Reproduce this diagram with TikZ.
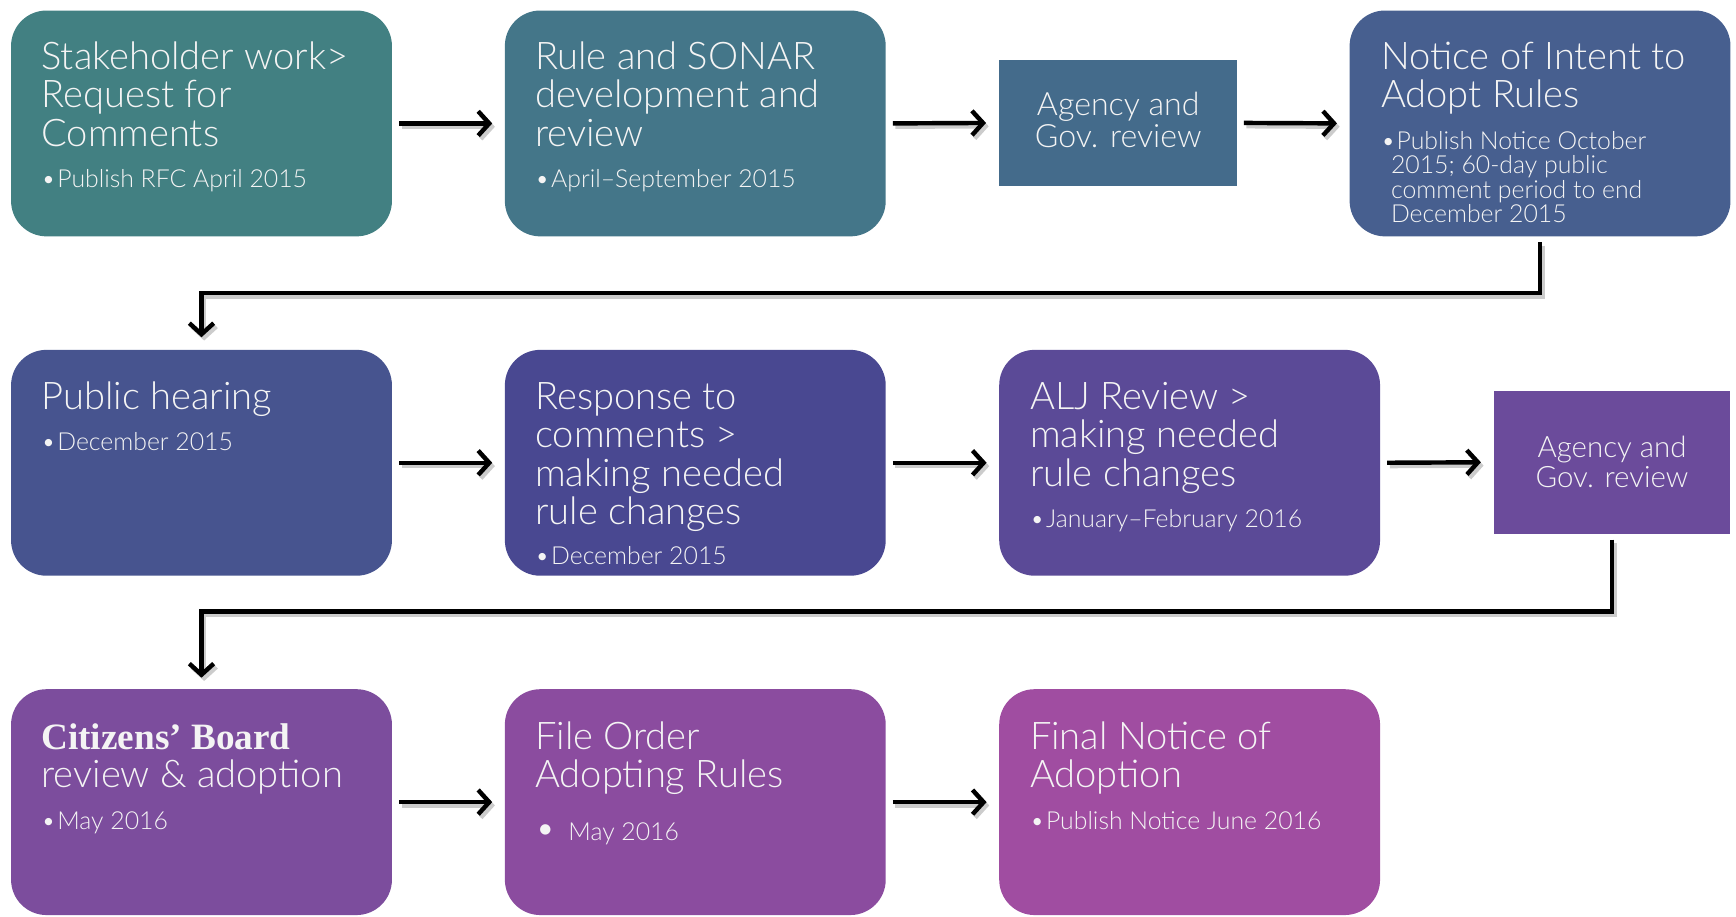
\documentclass[tikz,border=0pt]{standalone}
\usepackage{fontspec}
\setmainfont{Lato}[UprightFont=* Light]
\newfontfamily\brdfont{Liberation Serif}
\usetikzlibrary{arrows.meta}
\definecolor{cA}{HTML}{428082}
\definecolor{cB}{HTML}{447689}
\definecolor{cC}{HTML}{446B8B}
\definecolor{cD}{HTML}{475F8F}
\definecolor{cE}{HTML}{47548F}
\definecolor{cF}{HTML}{494891}
\definecolor{cG}{HTML}{5B4A97}
\definecolor{cH}{HTML}{6B4B9B}
\definecolor{cI}{HTML}{7C4D9D}
\definecolor{cJ}{HTML}{8B4C9F}
\definecolor{cK}{HTML}{A04DA1}
\definecolor{txt}{HTML}{F4F4F4}
\newcommand{\lns}[1]{\parbox[t]{300pt}{\raggedright #1}}
\newcommand{\bl}{\makebox[7.2pt][l]{•}}
\begin{document}
\begin{tikzpicture}[x=0.5pt,y=-0.5pt,
  rbox/.style={rectangle, rounded corners=16pt, draw=none, minimum width=172pt, minimum height=102pt, inner sep=0},
  sbox/.style={rectangle, draw=none, inner sep=0},
  ttl/.style={anchor=base west, inner sep=0, text=txt, font=\fontsize{17.2}{17.25}\selectfont},
  bul/.style={anchor=base west, inner sep=0, text=txt, font=\fontsize{11.2}{11}\selectfont},
  ctr/.style={anchor=base, inner sep=0, text=txt, align=center},
  conn/.style={line width=2pt, -{Straight Barb[length=5pt,width=11pt]},
    preaction={draw=black!20, line width=2pt, transform canvas={shift={(1.2pt,-1.5pt)}}}},
]
\useasboundingbox (0,0) rectangle (1568,828);
% boxes
\node[rbox, fill=cA] (b1) at (182,111.5) {};
\node[rbox, fill=cB] (b2) at (628,111.5) {};
\node[sbox, fill=cC, minimum width=107.5pt, minimum height=57pt] (b3) at (1009.5,111) {};
\node[rbox, fill=cD] (b4) at (1391,111.5) {};
\node[rbox, fill=cE] (b5) at (182,418) {};
\node[rbox, fill=cF] (b6) at (628,418) {};
\node[rbox, fill=cG] (b7) at (1074.5,418) {};
\node[sbox, fill=cH, minimum width=107pt, minimum height=64.5pt] (b8) at (1456,417.5) {};
\node[rbox, fill=cI] (b9) at (182,724.5) {};
\node[rbox, fill=cJ] (b10) at (628,724.5) {};
\node[rbox, fill=cK] (b11) at (1074.5,724.5) {};
% texts row 1
\node[ttl] (t1) at (37,63) {\lns{Stakeholder work>\\Request for\\Comments}};
\node[bul] (u1) at (37,169) {\bl Publish RFC April 2015};
\node[ttl] (t2) at (483,63) {\lns{Rule and SONAR\\development and\\review}};
\node[bul] (u2) at (483,169) {\bl April–September 2015};
\node[ctr, font=\fontsize{14.5}{14.5}\selectfont] (t3) at (1010,133) {Agency and\\Gov. review};
\node[ttl] (t4) at (1247,63) {\lns{Notice of Intent to\\Adopt Rules}};
\node[bul] (u4) at (1247,135) {\lns{\makebox[7pt][l]{•}Publish Notice October\\\hspace*{4.5pt}2015; 60-day public\\\hspace*{4.5pt}comment period to end\\\hspace*{4.5pt}December 2015}};
% row 2
\node[ttl] (t5) at (37,370) {\lns{Public hearing}};
\node[bul] (u5) at (37,407) {\bl December 2015};
\node[ttl] (t6) at (483,370) {\lns{Response to\\comments >\\making needed\\rule changes}};
\node[bul] (u6) at (483,510) {\bl December 2015};
\node[ttl] (t7) at (930,370) {\lns{ALJ Review >\\making needed\\rule changes}};
\node[bul] (u7) at (930,476) {\bl January–February 2016};
\node[ctr, font=\fontsize{13.3}{13.5}\selectfont] (t8) at (1456,440) {Agency and\\Gov. review};
% row 3
\node[ttl] (t9) at (37,677) {\lns{{\brdfont\bfseries\fontsize{16.8}{17.25}\selectfont Citizens’ Board}\\review \& adoption}};
\node[bul] (u9) at (37,749) {\bl May 2016};
\node[ttl] (t10) at (483,677) {\lns{File Order\\Adopting Rules}};
\node[bul] (u10) at (483,759) {\makebox[15pt][l]{\fontsize{16}{11}\selectfont •}May 2016};
\node[ttl] (t11) at (930,677) {\lns{Final Notice of\\Adoption}};
\node[bul] (u11) at (930,749) {\bl Publish Notice June 2016};
% connectors
\begin{scope}[shorten <=3pt, shorten >=5.5pt]
\draw[conn] (b1.east) -- (b2.west);
\draw[conn] (b2.east) -- (b3.west);
\draw[conn] (b3.east) -- (b4.west);
\draw[conn] (b5.east) -- (b6.west);
\draw[conn] (b6.east) -- (b7.west);
\draw[conn] (b7.east) -- (b8.west);
\draw[conn] (b9.east) -- (b10.west);
\draw[conn] (b10.east) -- (b11.west);
\end{scope}
\draw[conn, shorten <=2.5pt, shorten >=5.5pt] (b4.south) -- ++(0,51) -| (b5.north);
\draw[conn, shorten <=2.5pt, shorten >=5pt] (b8.south) -- ++(0,70) -| (b9.north);
\end{tikzpicture}
\end{document}
